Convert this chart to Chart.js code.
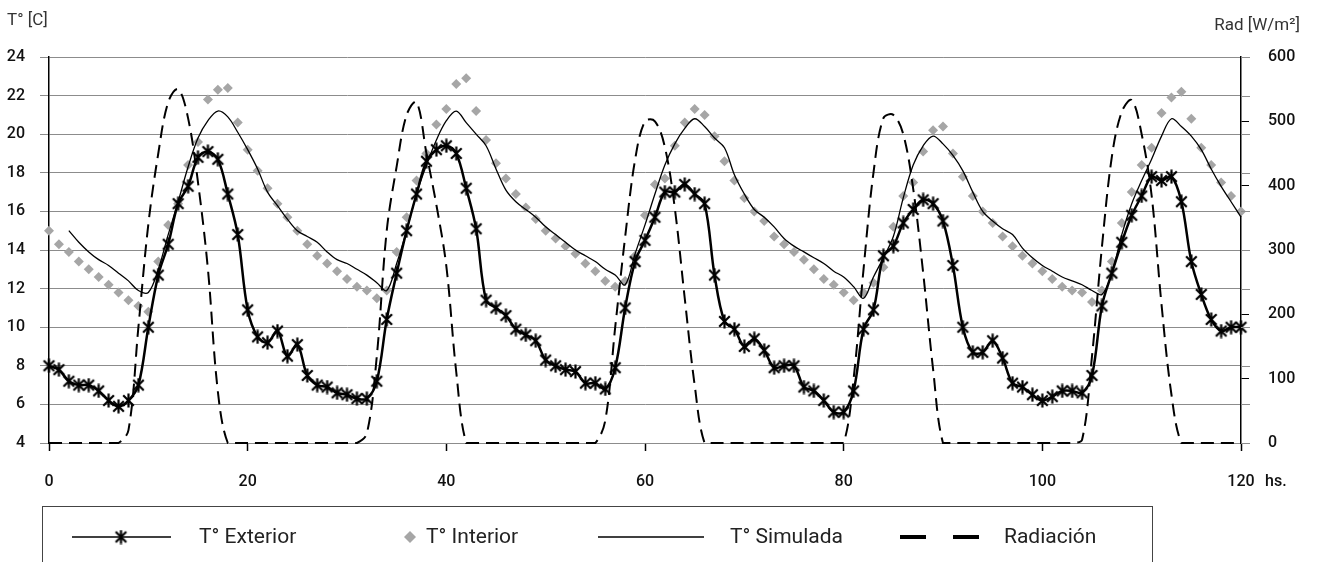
<!DOCTYPE html>
<html>
<head>
<meta charset="utf-8">
<script src="https://cdn.jsdelivr.net/npm/chart.js@4.4.1/dist/chart.umd.min.js"></script>
<style>
  html, body { margin: 0; padding: 0; background: #fff; }
  #wrap { width: 1319px; height: 562px; }
</style>
</head>
<body>
<div id="wrap"><canvas id="chart" width="1319" height="562"></canvas></div>
<script>
// hourly readings, 0 .. 120 hs.
const hours = Array.from({ length: 121 }, (_, i) => i);

const tExterior = [
  8.0, 7.8, 7.2, 7.0, 7.0, 6.7, 6.2, 5.9, 6.2, 7.0,
  10.0, 12.7, 14.3, 16.4, 17.3, 18.8, 19.1, 18.7, 16.9, 14.8,
  10.9, 9.5, 9.2, 9.8, 8.5, 9.1, 7.5, 7.0, 6.9, 6.6,
  6.5, 6.3, 6.3, 7.2, 10.4, 12.8, 15.0, 16.9, 18.6, 19.2,
  19.4, 19.0, 17.2, 15.1, 11.4, 11.0, 10.6, 9.9, 9.6, 9.3,
  8.3, 8.0, 7.8, 7.7, 7.1, 7.1, 6.8, 7.9, 11.0, 13.4,
  14.5, 15.7, 17.0, 17.0, 17.4, 16.9, 16.4, 12.7, 10.3, 9.9,
  9.0, 9.4, 8.8, 7.9, 8.0, 8.0, 6.9, 6.7, 6.2, 5.6,
  5.6, 6.7, 9.9, 10.9, 13.7, 14.2, 15.4, 16.1, 16.6, 16.4,
  15.5, 13.2, 10.0, 8.7, 8.7, 9.3, 8.4, 7.1, 6.9, 6.5,
  6.2, 6.4, 6.7, 6.7, 6.6, 7.5, 11.1, 12.8, 14.4, 15.8,
  16.8, 17.8, 17.6, 17.8, 16.5, 13.4, 11.7, 10.4, 9.8, 10.0,
  10.0
];

const tInterior = [
  15.0, 14.3, 13.9, 13.4, 13.0, 12.6, 12.2, 11.8, 11.4, 11.1,
  10.8, 13.4, 15.3, 16.4, 18.4, 19.6, 21.8, 22.3, 22.4, 20.6,
  19.2, 18.1, 17.2, 16.4, 15.7, 15.0, 14.3, 13.7, 13.3, 12.9,
  12.5, 12.1, 11.9, 11.5, 11.9, 13.9, 15.7, 17.6, 19.0, 20.5,
  21.3, 22.6, 22.9, 21.2, 19.7, 18.5, 17.7, 16.9, 16.2, 15.6,
  15.0, 14.6, 14.2, 13.8, 13.3, 12.9, 12.4, 12.1, 12.4, 13.7,
  15.8, 17.4, 17.7, 19.4, 20.6, 21.3, 21.0, 19.9, 18.6, 17.6,
  16.7, 16.0, 15.5, 14.7, 14.3, 13.9, 13.5, 13.0, 12.5, 12.2,
  11.8, 11.4, 11.8, 12.3, 13.1, 15.2, 16.8, 17.5, 19.1, 20.2,
  20.4, 19.0, 17.8, 16.8, 16.0, 15.4, 14.7, 14.2, 13.7, 13.3,
  12.9, 12.5, 12.1, 11.9, 11.8, 11.3, 11.9, 13.4, 15.4, 17.0,
  18.4, 19.3, 21.1, 21.9, 22.2, 20.8, 19.3, 18.4, 17.5, 16.8,
  16.0
];

const tSimulada = [
  null, null, 15.0, 14.4, 13.9, 13.5, 13.2, 12.8, 12.4, 11.9,
  11.8, 13.0, 14.8, 16.5, 18.3, 19.8, 20.7, 21.2, 20.9, 20.1,
  19.2, 18.2, 17.0, 16.3, 15.6, 15.0, 14.7, 14.4, 13.9, 13.5,
  13.3, 13.0, 12.7, 12.3, 11.9, 13.3, 15.0, 16.9, 18.4, 19.7,
  20.7, 21.2, 20.6, 20.0, 19.4, 18.2, 17.1, 16.5, 16.1, 15.7,
  15.2, 14.8, 14.4, 14.0, 13.7, 13.4, 13.0, 12.7, 12.2, 13.8,
  15.3, 16.9, 18.4, 19.5, 20.3, 20.8, 20.4, 19.8, 19.3, 17.9,
  16.9, 16.1, 15.7, 15.2, 14.6, 14.2, 13.9, 13.6, 13.3, 12.9,
  12.6, 12.1, 11.5, 12.6, 13.6, 14.7, 16.7, 18.4, 19.4, 19.9,
  19.5, 18.9, 18.1, 17.0, 16.0, 15.5, 15.1, 14.8, 14.1, 13.6,
  13.2, 12.9, 12.6, 12.4, 12.2, 11.9, 11.7, 12.8, 14.8, 16.4,
  17.6, 18.7, 19.9, 20.8, 20.4, 19.9, 19.2, 18.2, 17.3, 16.5,
  15.7
];

const radiacion = [
  0, 0, 0, 0, 0, 0, 0, 0, 20, 180,
  340, 450, 530, 550, 505, 405, 270, 80, 0, 0,
  0, 0, 0, 0, 0, 0, 0, 0, 0, 0,
  0, 0, 15, 135, 330, 430, 510, 530, 450, 370,
  275, 110, 0, 0, 0, 0, 0, 0, 0, 0,
  0, 0, 0, 0, 0, 0, 35, 180, 320, 440,
  500, 500, 460, 365, 225, 90, 0, 0, 0, 0,
  0, 0, 0, 0, 0, 0, 0, 0, 0, 0,
  0, 100, 270, 420, 505, 510, 480, 395, 265, 115,
  0, 0, 0, 0, 0, 0, 0, 0, 0, 0,
  0, 0, 0, 0, 5, 135, 305, 445, 515, 533,
  480, 385, 215, 75, 0, 0, 0, 0, 0, 0,
  0
];

const seriesNames = ['T° Exterior', 'T° Interior', 'T° Simulada', 'Radiación'];

const FONT = 'Roboto, "Open Sans", sans-serif';
const GRID = '#8c8c8c';
const INTERIOR_GREY = '#a6a6a6';

// excel-like asterisk marker: an X with a vertical stroke
function starMarker(size, lw) {
  const c = document.createElement('canvas');
  c.width = size;
  c.height = size;
  const g = c.getContext('2d');
  g.strokeStyle = '#000';
  g.lineWidth = lw;
  g.beginPath();
  g.moveTo(lw, lw); g.lineTo(size - lw, size - lw);
  g.moveTo(size - lw, lw); g.lineTo(lw, size - lw);
  g.moveTo(size / 2, 0.5); g.lineTo(size / 2, size - 0.5);
  g.stroke();
  return c;
}
const star = starMarker(15, 2.2);

const pts = (arr) => hours.map((h, i) => ({ x: h, y: arr[i] }));

const extras = {
  id: 'extras',
  afterDraw(chart) {
    const ctx = chart.ctx;
    const y = chart.scales.y;
    const area = chart.chartArea;
    ctx.save();

    // grid lines run a little past the right axis
    ctx.strokeStyle = GRID;
    ctx.lineWidth = 1;
    y.ticks.forEach((t) => {
      const py = Math.round(y.getPixelForValue(t.value)) + 0.5;
      ctx.beginPath();
      ctx.moveTo(area.right, py);
      ctx.lineTo(area.right + 9, py);
      ctx.stroke();
    });

    // axis titles
    ctx.fillStyle = '#333';
    ctx.font = '17px ' + FONT;
    ctx.textBaseline = 'middle';
    ctx.textAlign = 'left';
    ctx.fillText('T° [C]', 7, 21);
    ctx.textAlign = 'right';
    ctx.fillText('Rad [W/m²]', 1300, 26);
    ctx.fillStyle = '#111';
    ctx.font = '500 16px ' + FONT;
    ctx.textAlign = 'left';
    ctx.fillText('hs.', 1265, 482);

    // legend box
    const ly = 537;
    ctx.strokeStyle = '#444';
    ctx.lineWidth = 1;
    ctx.strokeRect(42.5, 506.5, 1110, 80);

    ctx.strokeStyle = '#000';
    ctx.lineWidth = 1.5;
    ctx.beginPath();
    ctx.moveTo(72, ly); ctx.lineTo(171, ly);
    ctx.stroke();
    ctx.drawImage(star, 121 - star.width / 2, ly - star.height / 2);

    ctx.fillStyle = INTERIOR_GREY;
    ctx.beginPath();
    ctx.moveTo(410, ly - 6); ctx.lineTo(416, ly); ctx.lineTo(410, ly + 6); ctx.lineTo(404, ly);
    ctx.closePath();
    ctx.fill();

    ctx.lineWidth = 1.3;
    ctx.beginPath();
    ctx.moveTo(598, ly); ctx.lineTo(704, ly);
    ctx.stroke();

    ctx.lineWidth = 4;
    ctx.beginPath();
    ctx.moveTo(900, ly); ctx.lineTo(926, ly);
    ctx.moveTo(953, ly); ctx.lineTo(979, ly);
    ctx.stroke();

    ctx.fillStyle = '#222';
    ctx.font = '21px ' + FONT;
    ctx.textAlign = 'left';
    ctx.fillText(seriesNames[0], 199, ly + 1);
    ctx.fillText(seriesNames[1], 426, ly + 1);
    ctx.fillText(seriesNames[2], 730, ly + 1);
    ctx.fillText(seriesNames[3], 1004, ly + 1);

    ctx.restore();
  }
};

const tickFont = { family: FONT, size: 16, weight: '500' };

new Chart(document.getElementById('chart'), {
  type: 'line',
  data: {
    datasets: [
      {
        label: seriesNames[0],
        data: pts(tExterior),
        yAxisID: 'y',
        borderColor: '#000',
        borderWidth: 2.5,
        pointStyle: star,
        pointRadius: 7,
        tension: 0.35,
        clip: 8,
      },
      {
        label: seriesNames[2],
        data: pts(tSimulada),
        yAxisID: 'y',
        borderColor: '#000',
        borderWidth: 1.3,
        pointRadius: 0,
        tension: 0.35,
        clip: 8,
      },
      {
        label: seriesNames[3],
        data: pts(radiacion),
        yAxisID: 'y2',
        borderColor: '#000',
        borderWidth: 2,
        borderDash: [13, 7],
        pointRadius: 0,
        tension: 0.35,
        clip: 8,
      },
      {
        label: seriesNames[1],
        data: pts(tInterior),
        yAxisID: 'y',
        showLine: false,
        pointStyle: 'rectRot',
        pointRadius: 5,
        pointBackgroundColor: INTERIOR_GREY,
        pointBorderWidth: 0,
        clip: 8,
      },
    ],
  },
  options: {
    responsive: false,
    animation: false,
    layout: { padding: { top: 57, left: 0, right: 0, bottom: 0 } },
    plugins: {
      legend: { display: false },
      tooltip: { enabled: false },
    },
    scales: {
      x: {
        type: 'linear',
        min: 0,
        max: 120,
        ticks: { stepSize: 20, font: tickFont, color: '#111', padding: 21, maxRotation: 0 },
        grid: { drawOnChartArea: false, drawTicks: true, tickLength: 8, tickColor: '#000', tickWidth: 1.5 },
        border: { display: false },
        afterFit: (s) => { s.height = 119; },
      },
      y: {
        position: 'left',
        min: 4,
        max: 24,
        ticks: { stepSize: 2, font: tickFont, color: '#111', padding: 15 },
        grid: { color: GRID, lineWidth: 1, tickLength: 9 },
        border: { color: '#000', width: 1.5 },
        afterFit: (s) => { s.width = 49; },
      },
      y2: {
        position: 'right',
        min: 0,
        max: 600,
        ticks: { stepSize: 100, font: tickFont, color: '#111', padding: 19 },
        grid: { drawOnChartArea: false, tickLength: 8, tickColor: '#000' },
        border: { color: '#000', width: 1.5 },
        afterFit: (s) => { s.width = 78; },
      },
    },
  },
  plugins: [extras],
});
</script>
</body>
</html>
